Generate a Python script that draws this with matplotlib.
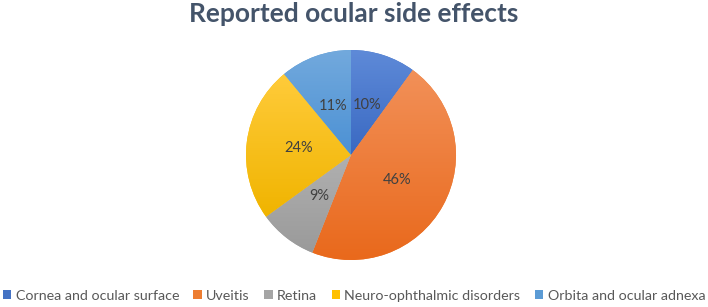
import numpy as np
import matplotlib.pyplot as plt
from matplotlib.patches import Patch

# --- Data ---
categories = ["Cornea and ocular surface", "Uveitis", "Retina",
              "Neuro-ophthalmic disorders", "Orbita and ocular adnexa"]
shares = [10, 46, 9, 24, 11]

# Excel-style colours: (top of slice, bottom of slice)
top_colors = ["#5E8AD8", "#F29058", "#B0B0B0", "#FFCB3A", "#72A9DD"]
bottom_colors = ["#3A69C2", "#E9691C", "#9A9A9A", "#F0B400", "#4C91D4"]
base_colors = ["#4472C4", "#ED7D31", "#A5A5A5", "#FFC000", "#5B9BD5"]

plt.rcParams["font.family"] = ["Lato", "DejaVu Sans"]

fig = plt.figure(figsize=(7.08, 3.07), dpi=100)
W, H = 708, 307
cx, cy, r = 351, 152, 105
ax = fig.add_axes([(cx - r) / W, (cy - r) / H, 2 * r / W, 2 * r / H])

wedges, texts, autotexts = ax.pie(
    shares, colors=base_colors, startangle=90, counterclock=False,
    autopct="%1.0f%%", pctdistance=0.5,
    textprops=dict(color="#404040", fontsize=10.5),
    wedgeprops=dict(linewidth=0))

# --- vertical gradient inside each slice ---
def hex2rgb(h):
    h = h.lstrip("#")
    return np.array([int(h[i:i + 2], 16) / 255 for i in (0, 2, 4)])

for w, c1, c2 in zip(wedges, top_colors, bottom_colors):
    ext = w.get_path().get_extents(w.get_patch_transform())
    t = np.linspace(0, 1, 64)[:, None]
    grad = (1 - t) * hex2rgb(c2) + t * hex2rgb(c1)
    img = np.repeat(grad[:, None, :], 2, axis=1)
    im = ax.imshow(img, extent=[ext.x0, ext.x1, ext.y0, ext.y1],
                   origin="lower", aspect="auto", zorder=w.get_zorder() + 0.1)
    im.set_clip_path(w)

for t in autotexts:
    t.set_zorder(5)

ax.set_xlim(-1, 1)
ax.set_ylim(-1, 1)
ax.set_aspect("equal")

fig.suptitle("Reported ocular side effects", x=0.5, y=0.995,
             fontsize=19, fontweight="bold", color="#44546A")

handles = [Patch(facecolor=c, edgecolor="none") for c in base_colors]
fig.legend(handles, categories, loc="center", bbox_to_anchor=(0.5, 11.5 / H),
           ncol=5, frameon=False, fontsize=10.3, labelcolor="#595959",
           handlelength=0.6, handleheight=0.6, handletextpad=0.3,
           columnspacing=1.0, borderaxespad=0)

fig.savefig("out.png", dpi=100)
